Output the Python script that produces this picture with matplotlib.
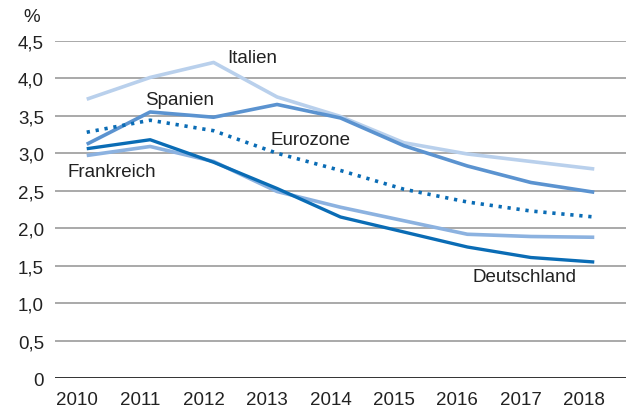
import matplotlib
matplotlib.use("Agg")
import matplotlib.pyplot as plt
from matplotlib.ticker import FuncFormatter
from matplotlib.transforms import ScaledTranslation

plt.rcParams['font.family'] = ['Liberation Sans', 'DejaVu Sans']

years = [2010, 2011, 2012, 2013, 2014, 2015, 2016, 2017, 2018]
italien = [3.72, 4.01, 4.21, 3.75, 3.49, 3.14, 2.99, 2.89, 2.79]
spanien = [3.12, 3.55, 3.48, 3.65, 3.47, 3.10, 2.83, 2.61, 2.48]
eurozone = [3.28, 3.44, 3.30, 3.00, 2.77, 2.52, 2.35, 2.23, 2.15]
frankreich = [2.97, 3.09, 2.89, 2.49, 2.28, 2.10, 1.92, 1.89, 1.88]
deutschland = [3.06, 3.18, 2.88, 2.53, 2.15, 1.95, 1.75, 1.61, 1.55]

yticks = [0, 0.5, 1.0, 1.5, 2.0, 2.5, 3.0, 3.5, 4.0, 4.5]

fig = plt.figure(figsize=(6.28, 4.10), dpi=100)
ax = fig.add_axes([55/628, 1 - 379.3/410, (626-55)/628, (379.3-41.7)/410])

for y in yticks[1:]:
    ax.axhline(y, color='#a3a3a3', lw=1.3, zorder=1)
ax.axhline(0, color='#222222', lw=1.3, zorder=1)

ax.plot(years, italien, color='#b9d0ec', lw=2.6, zorder=3, solid_capstyle='butt')
ax.plot(years, frankreich, color='#8cb2e0', lw=2.6, zorder=3, solid_capstyle='butt')
ax.plot(years, spanien, color='#5b93d0', lw=2.6, zorder=4, solid_capstyle='butt')
ax.plot(years, deutschland, color='#0a6cb5', lw=2.4, zorder=5, solid_capstyle='butt')
ax.plot(years, eurozone, color='#0a6cb5', lw=2.6, zorder=5, linestyle=(0, (0.9, 1.6)))

ax.set_xlim(2009.5, 2018.5)
ax.set_ylim(0, 4.5)
ax.set_xticks(years)
ax.set_yticks(yticks)
ax.yaxis.set_major_formatter(FuncFormatter(lambda v, p: '0' if v == 0 else f'{v:.1f}'.replace('.', ',')))
ax.tick_params(length=0, labelsize=13.5, colors='#222222')
ax.tick_params(axis='y', pad=8)
ax.tick_params(axis='x', pad=9)
for s in ax.spines.values():
    s.set_visible(False)

# year labels sit slightly left of their category positions
shift = ScaledTranslation(-10/100, 0, fig.dpi_scale_trans)
for lab in ax.get_xticklabels():
    lab.set_transform(lab.get_transform() + shift)

fig.text(23/628, 1 - 18/410, '%', fontsize=13.5, color='#222222', va='center', ha='left')

lbl = dict(fontsize=13.5, color='#222222', va='center')
ax.text(2012.22, 4.28, 'Italien', **lbl)
ax.text(2010.92, 3.72, 'Spanien', **lbl)
ax.text(2012.90, 3.18, 'Eurozone', **lbl)
ax.text(2009.69, 2.76, 'Frankreich', **lbl)
ax.text(2016.08, 1.36, 'Deutschland', **lbl)

fig.savefig('out.png', dpi=100)
